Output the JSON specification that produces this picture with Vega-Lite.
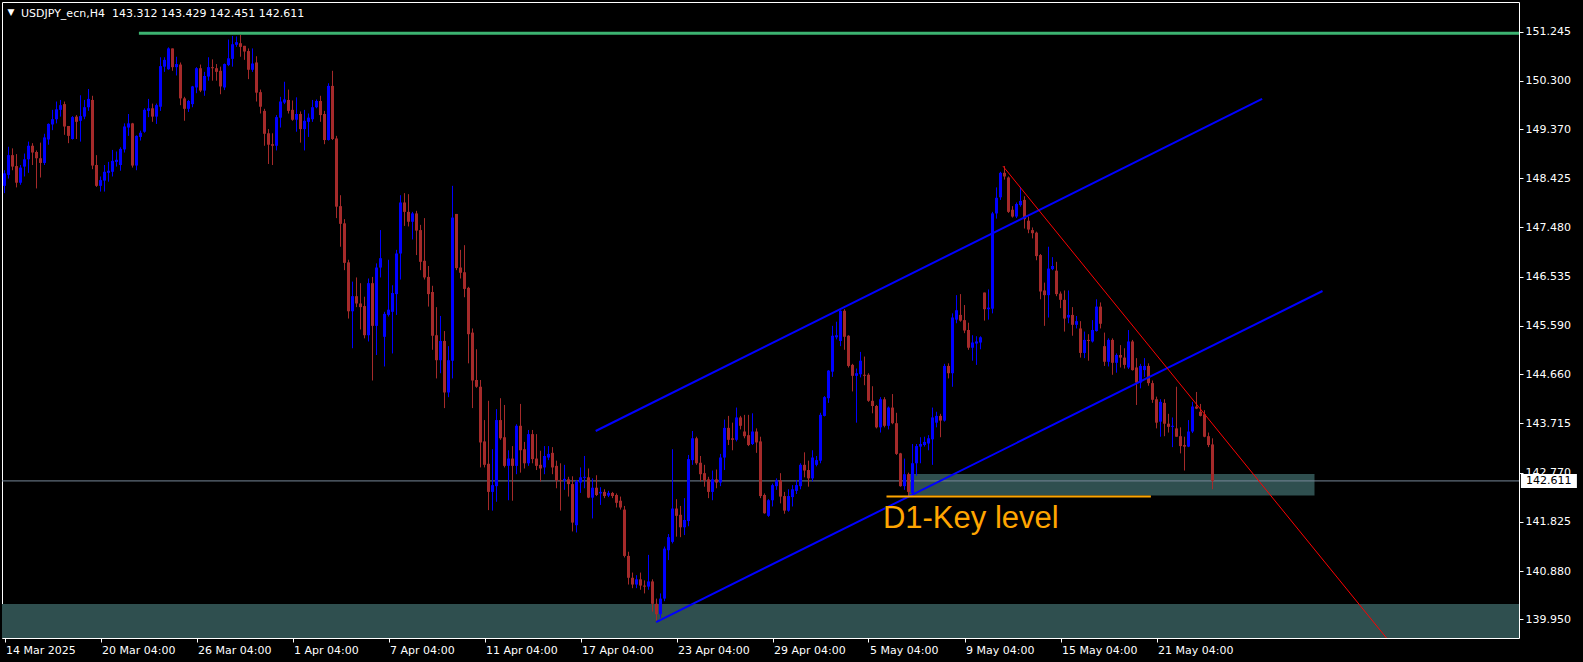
{
"$schema": "https://vega.github.io/schema/vega-lite/v6.json",
"width": 1517, "height": 636,
"autosize": {"type": "none"},
"padding": {"left": 2, "top": 2, "right": 64, "bottom": 24},
"background": "#000000",
"config": {
 "view": {"stroke": "#FFFFFF", "strokeWidth": 1, "fill": "#000000"},
 "axis": {"grid": false, "domain": false, "labelColor": "#FFFFFF", "tickColor": "#FFFFFF", "labelFont": "DejaVu Sans", "labelFontSize": 11, "tickSize": 4}
},
"datasets": {
"candles": [
{"i":0,"o":148.28,"h":148.58,"l":148.14,"c":148.52},
{"i":1,"o":148.49,"h":149.03,"l":148.42,"c":148.87},
{"i":2,"o":148.87,"h":149.00,"l":148.58,"c":148.65},
{"i":3,"o":148.66,"h":148.89,"l":148.25,"c":148.34},
{"i":4,"o":148.34,"h":148.68,"l":148.30,"c":148.63},
{"i":5,"o":148.65,"h":148.90,"l":148.46,"c":148.79},
{"i":6,"o":148.79,"h":149.13,"l":148.53,"c":149.05},
{"i":7,"o":149.05,"h":149.10,"l":148.68,"c":148.92},
{"i":8,"o":148.93,"h":148.96,"l":148.23,"c":148.81},
{"i":9,"o":148.81,"h":149.11,"l":148.44,"c":148.72},
{"i":10,"o":148.72,"h":149.28,"l":148.68,"c":149.21},
{"i":11,"o":149.17,"h":149.48,"l":149.07,"c":149.47},
{"i":12,"o":149.46,"h":149.74,"l":149.35,"c":149.56},
{"i":13,"o":149.56,"h":149.90,"l":149.48,"c":149.75},
{"i":14,"o":149.74,"h":149.93,"l":149.61,"c":149.83},
{"i":15,"o":149.85,"h":149.90,"l":149.26,"c":149.42},
{"i":16,"o":149.43,"h":149.43,"l":149.10,"c":149.24},
{"i":17,"o":149.18,"h":149.62,"l":149.17,"c":149.60},
{"i":18,"o":149.61,"h":149.64,"l":149.18,"c":149.51},
{"i":19,"o":149.53,"h":150.02,"l":149.13,"c":149.62},
{"i":20,"o":149.61,"h":149.93,"l":149.56,"c":149.79},
{"i":21,"o":149.79,"h":150.14,"l":149.72,"c":149.95},
{"i":22,"o":149.93,"h":150.01,"l":148.60,"c":148.67},
{"i":23,"o":148.68,"h":148.87,"l":148.26,"c":148.28},
{"i":24,"o":148.28,"h":148.46,"l":148.17,"c":148.39},
{"i":25,"o":148.38,"h":148.68,"l":148.17,"c":148.55},
{"i":26,"o":148.53,"h":148.74,"l":148.36,"c":148.57},
{"i":27,"o":148.55,"h":148.97,"l":148.46,"c":148.76},
{"i":28,"o":148.74,"h":148.94,"l":148.65,"c":148.78},
{"i":29,"o":148.68,"h":149.02,"l":148.57,"c":148.99},
{"i":30,"o":148.98,"h":149.48,"l":148.92,"c":149.42},
{"i":31,"o":149.40,"h":149.66,"l":149.24,"c":149.48},
{"i":32,"o":149.48,"h":149.49,"l":148.63,"c":148.67},
{"i":33,"o":148.67,"h":149.25,"l":148.58,"c":149.24},
{"i":34,"o":149.22,"h":149.34,"l":149.15,"c":149.30},
{"i":35,"o":149.32,"h":149.77,"l":149.30,"c":149.74},
{"i":36,"o":149.72,"h":149.95,"l":149.60,"c":149.77},
{"i":37,"o":149.77,"h":149.86,"l":149.51,"c":149.61},
{"i":38,"o":149.61,"h":149.86,"l":149.47,"c":149.83},
{"i":39,"o":149.80,"h":150.75,"l":149.72,"c":150.58},
{"i":40,"o":150.57,"h":150.75,"l":150.47,"c":150.70},
{"i":41,"o":150.52,"h":150.94,"l":150.51,"c":150.92},
{"i":42,"o":150.92,"h":150.92,"l":150.49,"c":150.56},
{"i":43,"o":150.56,"h":150.76,"l":150.40,"c":150.62},
{"i":44,"o":150.61,"h":150.65,"l":149.83,"c":149.96},
{"i":45,"o":149.96,"h":149.99,"l":149.53,"c":149.76},
{"i":46,"o":149.76,"h":149.93,"l":149.70,"c":149.91},
{"i":47,"o":149.85,"h":150.20,"l":149.79,"c":150.19},
{"i":48,"o":150.17,"h":150.56,"l":150.06,"c":150.54},
{"i":49,"o":150.54,"h":150.61,"l":150.08,"c":150.11},
{"i":50,"o":150.11,"h":150.47,"l":150.01,"c":150.39},
{"i":51,"o":150.38,"h":150.75,"l":150.30,"c":150.56},
{"i":52,"o":150.56,"h":150.71,"l":150.30,"c":150.54},
{"i":53,"o":150.54,"h":150.62,"l":150.30,"c":150.47},
{"i":54,"o":150.49,"h":150.57,"l":150.04,"c":150.19},
{"i":55,"o":150.17,"h":150.63,"l":150.12,"c":150.62},
{"i":56,"o":150.60,"h":151.09,"l":150.58,"c":150.73},
{"i":57,"o":150.72,"h":151.16,"l":150.57,"c":151.00},
{"i":58,"o":150.99,"h":151.15,"l":150.95,"c":151.04},
{"i":59,"o":151.02,"h":151.18,"l":150.76,"c":150.95},
{"i":60,"o":150.97,"h":150.97,"l":150.70,"c":150.86},
{"i":61,"o":150.87,"h":150.92,"l":150.33,"c":150.51},
{"i":62,"o":150.51,"h":150.92,"l":150.47,"c":150.63},
{"i":63,"o":150.65,"h":150.77,"l":149.90,"c":150.07},
{"i":64,"o":150.08,"h":150.13,"l":149.67,"c":149.80},
{"i":65,"o":149.72,"h":149.76,"l":149.05,"c":149.28},
{"i":66,"o":149.29,"h":149.37,"l":148.70,"c":149.07},
{"i":67,"o":149.08,"h":149.29,"l":148.68,"c":149.05},
{"i":68,"o":149.05,"h":149.64,"l":148.96,"c":149.60},
{"i":69,"o":149.59,"h":149.99,"l":149.40,"c":149.90},
{"i":70,"o":149.88,"h":150.28,"l":149.85,"c":149.94},
{"i":71,"o":149.93,"h":150.13,"l":149.67,"c":149.72},
{"i":72,"o":149.74,"h":149.92,"l":149.53,"c":149.55},
{"i":73,"o":149.55,"h":149.98,"l":149.32,"c":149.66},
{"i":74,"o":149.66,"h":149.71,"l":149.11,"c":149.37},
{"i":75,"o":149.37,"h":149.74,"l":148.96,"c":149.53},
{"i":76,"o":149.51,"h":149.67,"l":149.22,"c":149.59},
{"i":77,"o":149.56,"h":149.93,"l":149.51,"c":149.79},
{"i":78,"o":149.79,"h":149.94,"l":149.77,"c":149.91},
{"i":79,"o":149.91,"h":150.01,"l":149.51,"c":149.64},
{"i":80,"o":149.66,"h":149.72,"l":149.08,"c":149.16},
{"i":81,"o":149.16,"h":150.25,"l":149.15,"c":150.20},
{"i":82,"o":150.20,"h":150.49,"l":149.16,"c":149.18},
{"i":83,"o":149.19,"h":149.24,"l":147.66,"c":147.88},
{"i":84,"o":147.89,"h":148.10,"l":147.11,"c":147.55},
{"i":85,"o":147.56,"h":147.64,"l":146.66,"c":146.80},
{"i":86,"o":146.81,"h":146.86,"l":145.73,"c":145.87},
{"i":87,"o":145.87,"h":146.44,"l":145.16,"c":146.16},
{"i":88,"o":146.16,"h":146.52,"l":145.95,"c":146.02},
{"i":89,"o":146.02,"h":146.41,"l":145.52,"c":145.95},
{"i":90,"o":145.97,"h":146.15,"l":145.35,"c":145.41},
{"i":91,"o":145.41,"h":146.50,"l":145.29,"c":146.41},
{"i":92,"o":146.41,"h":146.53,"l":144.54,"c":145.59},
{"i":93,"o":145.59,"h":146.79,"l":145.03,"c":146.71},
{"i":94,"o":146.71,"h":147.43,"l":146.52,"c":146.89},
{"i":95,"o":145.38,"h":145.86,"l":144.81,"c":145.82},
{"i":96,"o":145.80,"h":146.86,"l":145.77,"c":145.90},
{"i":97,"o":145.86,"h":146.37,"l":145.06,"c":146.22},
{"i":98,"o":146.20,"h":147.05,"l":145.80,"c":146.98},
{"i":99,"o":146.98,"h":148.10,"l":146.48,"c":147.96},
{"i":100,"o":147.96,"h":148.14,"l":147.51,"c":147.78},
{"i":101,"o":147.78,"h":148.12,"l":147.50,"c":147.59},
{"i":102,"o":147.59,"h":147.78,"l":147.25,"c":147.75},
{"i":103,"o":147.75,"h":147.80,"l":146.95,"c":147.42},
{"i":104,"o":147.43,"h":147.53,"l":146.66,"c":146.82},
{"i":105,"o":146.84,"h":147.66,"l":146.48,"c":146.52},
{"i":106,"o":146.53,"h":146.74,"l":145.96,"c":146.20},
{"i":107,"o":146.24,"h":146.36,"l":145.13,"c":145.40},
{"i":108,"o":145.41,"h":145.95,"l":144.58,"c":144.93},
{"i":109,"o":144.93,"h":145.78,"l":144.68,"c":145.30},
{"i":110,"o":145.30,"h":145.49,"l":144.01,"c":144.31},
{"i":111,"o":144.31,"h":145.20,"l":144.22,"c":144.93},
{"i":112,"o":144.92,"h":148.28,"l":144.58,"c":147.67},
{"i":113,"o":147.74,"h":147.74,"l":146.66,"c":146.70},
{"i":114,"o":146.71,"h":147.05,"l":146.50,"c":146.61},
{"i":115,"o":146.62,"h":147.14,"l":146.14,"c":146.30},
{"i":116,"o":146.32,"h":146.34,"l":144.87,"c":145.43},
{"i":117,"o":145.46,"h":145.54,"l":144.01,"c":144.54},
{"i":118,"o":144.55,"h":145.14,"l":144.40,"c":144.42},
{"i":119,"o":144.42,"h":144.55,"l":142.87,"c":143.35},
{"i":120,"o":143.37,"h":143.78,"l":142.87,"c":142.92},
{"i":121,"o":142.94,"h":144.15,"l":142.05,"c":142.40},
{"i":122,"o":142.40,"h":143.22,"l":142.04,"c":142.53},
{"i":123,"o":142.51,"h":143.99,"l":142.21,"c":143.78},
{"i":124,"o":143.78,"h":144.20,"l":143.40,"c":143.43},
{"i":125,"o":143.45,"h":144.07,"l":142.87,"c":142.90},
{"i":126,"o":142.90,"h":143.20,"l":142.24,"c":143.04},
{"i":127,"o":143.04,"h":143.28,"l":142.23,"c":142.90},
{"i":128,"o":142.90,"h":143.70,"l":142.74,"c":143.67},
{"i":129,"o":143.67,"h":144.09,"l":142.77,"c":143.20},
{"i":130,"o":143.22,"h":143.36,"l":142.85,"c":142.95},
{"i":131,"o":142.95,"h":143.59,"l":142.90,"c":143.51},
{"i":132,"o":143.51,"h":143.59,"l":142.95,"c":143.03},
{"i":133,"o":143.04,"h":143.51,"l":142.82,"c":142.90},
{"i":134,"o":142.92,"h":143.19,"l":142.60,"c":142.85},
{"i":135,"o":142.87,"h":143.28,"l":142.74,"c":143.09},
{"i":136,"o":143.06,"h":143.28,"l":143.01,"c":143.13},
{"i":137,"o":143.15,"h":143.26,"l":142.74,"c":142.87},
{"i":138,"o":142.90,"h":143.00,"l":142.47,"c":142.62},
{"i":139,"o":142.63,"h":142.95,"l":142.04,"c":142.61},
{"i":140,"o":142.62,"h":142.92,"l":142.44,"c":142.65},
{"i":141,"o":142.64,"h":142.69,"l":142.31,"c":142.55},
{"i":142,"o":142.55,"h":142.70,"l":141.64,"c":141.81},
{"i":143,"o":141.76,"h":142.63,"l":141.62,"c":142.60},
{"i":144,"o":142.58,"h":142.87,"l":142.38,"c":142.68},
{"i":145,"o":142.67,"h":143.09,"l":142.47,"c":142.69},
{"i":146,"o":142.68,"h":142.85,"l":142.28,"c":142.29},
{"i":147,"o":142.29,"h":142.66,"l":141.89,"c":142.48},
{"i":148,"o":142.48,"h":142.72,"l":142.32,"c":142.34},
{"i":149,"o":142.37,"h":142.49,"l":142.15,"c":142.40},
{"i":150,"o":142.40,"h":142.45,"l":142.28,"c":142.32},
{"i":151,"o":142.33,"h":142.42,"l":142.30,"c":142.38},
{"i":152,"o":142.38,"h":142.40,"l":142.28,"c":142.32},
{"i":153,"o":142.34,"h":142.37,"l":142.10,"c":142.19},
{"i":154,"o":142.23,"h":142.31,"l":142.06,"c":142.10},
{"i":155,"o":142.06,"h":142.13,"l":141.14,"c":141.17},
{"i":156,"o":141.17,"h":141.25,"l":140.62,"c":140.75},
{"i":157,"o":140.75,"h":140.85,"l":140.55,"c":140.62},
{"i":158,"o":140.62,"h":140.80,"l":140.55,"c":140.72},
{"i":159,"o":140.72,"h":140.85,"l":140.52,"c":140.60},
{"i":160,"o":140.60,"h":140.70,"l":140.45,"c":140.58},
{"i":161,"o":140.58,"h":141.19,"l":140.52,"c":140.68},
{"i":162,"o":140.68,"h":140.72,"l":140.10,"c":140.25},
{"i":163,"o":140.25,"h":140.35,"l":139.92,"c":140.05},
{"i":164,"o":140.05,"h":140.45,"l":139.98,"c":140.35},
{"i":165,"o":140.35,"h":141.35,"l":140.30,"c":141.31},
{"i":166,"o":141.28,"h":141.59,"l":141.09,"c":141.53},
{"i":167,"o":141.44,"h":143.22,"l":141.41,"c":142.08},
{"i":168,"o":142.08,"h":142.26,"l":141.54,"c":141.94},
{"i":169,"o":141.96,"h":142.13,"l":141.53,"c":141.72},
{"i":170,"o":141.72,"h":142.28,"l":141.57,"c":141.86},
{"i":171,"o":141.84,"h":143.11,"l":141.74,"c":143.03},
{"i":172,"o":143.01,"h":143.57,"l":142.92,"c":143.43},
{"i":173,"o":143.43,"h":143.46,"l":142.92,"c":142.95},
{"i":174,"o":142.96,"h":143.09,"l":142.60,"c":142.74},
{"i":175,"o":142.76,"h":142.92,"l":142.50,"c":142.62},
{"i":176,"o":142.64,"h":142.69,"l":142.28,"c":142.40},
{"i":177,"o":142.40,"h":142.81,"l":142.24,"c":142.64},
{"i":178,"o":142.64,"h":142.83,"l":142.47,"c":142.58},
{"i":179,"o":142.58,"h":143.13,"l":142.51,"c":143.06},
{"i":180,"o":143.06,"h":143.79,"l":142.82,"c":143.63},
{"i":181,"o":143.63,"h":143.86,"l":143.30,"c":143.40},
{"i":182,"o":143.43,"h":143.73,"l":143.20,"c":143.40},
{"i":183,"o":143.40,"h":144.02,"l":143.37,"c":143.83},
{"i":184,"o":143.83,"h":143.86,"l":143.60,"c":143.67},
{"i":185,"o":143.56,"h":143.88,"l":143.43,"c":143.47},
{"i":186,"o":143.49,"h":143.88,"l":143.28,"c":143.30},
{"i":187,"o":143.32,"h":143.91,"l":143.30,"c":143.56},
{"i":188,"o":143.56,"h":143.62,"l":143.15,"c":143.35},
{"i":189,"o":143.37,"h":143.46,"l":142.28,"c":142.32},
{"i":190,"o":142.34,"h":142.37,"l":141.98,"c":141.99},
{"i":191,"o":141.94,"h":142.26,"l":141.92,"c":142.24},
{"i":192,"o":142.24,"h":142.56,"l":142.12,"c":142.53},
{"i":193,"o":142.51,"h":142.66,"l":142.44,"c":142.62},
{"i":194,"o":142.62,"h":142.76,"l":142.18,"c":142.31},
{"i":195,"o":142.32,"h":142.40,"l":141.98,"c":142.04},
{"i":196,"o":142.04,"h":142.45,"l":142.02,"c":142.32},
{"i":197,"o":142.30,"h":142.53,"l":142.12,"c":142.45},
{"i":198,"o":142.42,"h":142.63,"l":142.36,"c":142.53},
{"i":199,"o":142.51,"h":142.95,"l":142.45,"c":142.92},
{"i":200,"o":142.92,"h":143.16,"l":142.68,"c":142.81},
{"i":201,"o":142.82,"h":143.00,"l":142.50,"c":142.66},
{"i":202,"o":142.66,"h":143.20,"l":142.60,"c":143.06},
{"i":203,"o":142.92,"h":143.09,"l":142.89,"c":143.01},
{"i":204,"o":143.00,"h":143.92,"l":142.95,"c":143.88},
{"i":205,"o":143.86,"h":144.24,"l":143.85,"c":144.22},
{"i":206,"o":144.20,"h":144.74,"l":144.11,"c":144.73},
{"i":207,"o":144.71,"h":145.59,"l":144.61,"c":145.40},
{"i":208,"o":145.37,"h":145.67,"l":145.33,"c":145.41},
{"i":209,"o":145.30,"h":145.89,"l":145.20,"c":145.88},
{"i":210,"o":145.88,"h":145.91,"l":145.13,"c":145.38},
{"i":211,"o":145.40,"h":145.41,"l":144.79,"c":144.82},
{"i":212,"o":144.84,"h":144.86,"l":144.33,"c":144.63},
{"i":213,"o":144.63,"h":144.77,"l":143.73,"c":144.68},
{"i":214,"o":144.66,"h":145.09,"l":144.60,"c":144.92},
{"i":215,"o":144.65,"h":145.00,"l":144.45,"c":144.63},
{"i":216,"o":144.65,"h":144.68,"l":144.13,"c":144.15},
{"i":217,"o":144.15,"h":144.43,"l":143.91,"c":144.05},
{"i":218,"o":144.05,"h":144.07,"l":143.62,"c":143.64},
{"i":219,"o":143.64,"h":144.22,"l":143.54,"c":144.18},
{"i":220,"o":144.18,"h":144.22,"l":143.64,"c":143.67},
{"i":221,"o":143.67,"h":144.04,"l":143.60,"c":144.02},
{"i":222,"o":144.02,"h":144.28,"l":143.70,"c":143.72},
{"i":223,"o":143.72,"h":143.92,"l":143.11,"c":143.13},
{"i":224,"o":143.14,"h":143.15,"l":142.50,"c":142.51},
{"i":225,"o":142.51,"h":143.04,"l":142.44,"c":142.74},
{"i":226,"o":142.74,"h":142.77,"l":142.31,"c":142.40},
{"i":227,"o":142.38,"h":143.32,"l":142.36,"c":142.95},
{"i":228,"o":142.95,"h":143.32,"l":142.71,"c":143.28},
{"i":229,"o":143.27,"h":143.45,"l":142.95,"c":143.32},
{"i":230,"o":143.30,"h":143.46,"l":143.27,"c":143.36},
{"i":231,"o":143.33,"h":143.49,"l":143.20,"c":143.43},
{"i":232,"o":143.41,"h":144.02,"l":142.92,"c":143.83},
{"i":233,"o":143.73,"h":143.94,"l":143.64,"c":143.86},
{"i":234,"o":143.86,"h":143.90,"l":143.45,"c":143.77},
{"i":235,"o":143.77,"h":144.86,"l":143.75,"c":144.82},
{"i":236,"o":144.82,"h":144.87,"l":144.58,"c":144.68},
{"i":237,"o":144.68,"h":145.83,"l":144.42,"c":145.75},
{"i":238,"o":145.71,"h":146.18,"l":145.64,"c":145.89},
{"i":239,"o":145.80,"h":146.20,"l":145.67,"c":145.69},
{"i":240,"o":145.70,"h":145.99,"l":145.45,"c":145.50},
{"i":241,"o":145.51,"h":145.65,"l":145.13,"c":145.17},
{"i":242,"o":145.17,"h":145.41,"l":144.92,"c":145.27},
{"i":243,"o":145.25,"h":145.39,"l":144.84,"c":145.29},
{"i":244,"o":145.27,"h":145.39,"l":145.14,"c":145.37},
{"i":245,"o":146.23,"h":146.23,"l":145.69,"c":145.91},
{"i":246,"o":145.91,"h":146.29,"l":145.71,"c":145.94},
{"i":247,"o":145.92,"h":147.78,"l":145.83,"c":147.75},
{"i":248,"o":147.75,"h":148.25,"l":147.65,"c":148.05},
{"i":249,"o":148.06,"h":148.55,"l":148.01,"c":148.53},
{"i":250,"o":148.53,"h":148.66,"l":148.40,"c":148.46},
{"i":251,"o":148.44,"h":148.46,"l":147.76,"c":147.78},
{"i":252,"o":147.82,"h":147.89,"l":147.67,"c":147.69},
{"i":253,"o":147.69,"h":147.96,"l":147.66,"c":147.93},
{"i":254,"o":147.91,"h":148.26,"l":147.88,"c":147.99},
{"i":255,"o":148.01,"h":148.08,"l":147.46,"c":147.64},
{"i":256,"o":147.61,"h":147.69,"l":147.37,"c":147.44},
{"i":257,"o":147.43,"h":147.48,"l":147.27,"c":147.37},
{"i":258,"o":147.38,"h":147.40,"l":146.85,"c":146.93},
{"i":259,"o":146.95,"h":146.97,"l":146.10,"c":146.25},
{"i":260,"o":146.27,"h":146.42,"l":145.59,"c":146.18},
{"i":261,"o":146.18,"h":147.11,"l":145.75,"c":146.69},
{"i":262,"o":146.68,"h":146.91,"l":146.66,"c":146.74},
{"i":263,"o":146.65,"h":146.82,"l":146.16,"c":146.20},
{"i":264,"o":146.21,"h":146.25,"l":145.93,"c":146.09},
{"i":265,"o":146.09,"h":146.27,"l":145.48,"c":145.73},
{"i":266,"o":145.75,"h":146.27,"l":145.64,"c":145.80},
{"i":267,"o":145.80,"h":145.95,"l":145.40,"c":145.61},
{"i":268,"o":145.61,"h":145.78,"l":145.54,"c":145.68},
{"i":269,"o":145.54,"h":145.68,"l":144.98,"c":145.07},
{"i":270,"o":145.07,"h":145.48,"l":144.97,"c":145.32},
{"i":271,"o":145.32,"h":145.43,"l":144.92,"c":145.30},
{"i":272,"o":145.29,"h":145.70,"l":145.27,"c":145.51},
{"i":273,"o":145.49,"h":146.10,"l":145.48,"c":145.96},
{"i":274,"o":145.96,"h":146.04,"l":145.54,"c":145.63},
{"i":275,"o":145.20,"h":145.46,"l":144.82,"c":144.90},
{"i":276,"o":144.90,"h":145.35,"l":144.81,"c":145.32},
{"i":277,"o":145.32,"h":145.35,"l":144.65,"c":144.88},
{"i":278,"o":144.88,"h":145.06,"l":144.69,"c":145.03},
{"i":279,"o":145.03,"h":145.22,"l":144.79,"c":144.98},
{"i":280,"o":144.98,"h":145.16,"l":144.77,"c":144.84},
{"i":281,"o":144.79,"h":145.51,"l":144.76,"c":145.29},
{"i":282,"o":145.29,"h":145.32,"l":144.73,"c":144.74},
{"i":283,"o":144.79,"h":144.97,"l":144.07,"c":144.50},
{"i":284,"o":144.50,"h":144.86,"l":144.39,"c":144.82},
{"i":285,"o":144.74,"h":144.97,"l":144.61,"c":144.82},
{"i":286,"o":144.82,"h":144.87,"l":144.44,"c":144.49},
{"i":287,"o":144.49,"h":144.54,"l":144.11,"c":144.17},
{"i":288,"o":144.18,"h":144.23,"l":143.62,"c":143.73},
{"i":289,"o":143.75,"h":144.18,"l":143.46,"c":144.13},
{"i":290,"o":144.11,"h":144.18,"l":143.47,"c":143.71},
{"i":291,"o":143.71,"h":143.90,"l":143.54,"c":143.65},
{"i":292,"o":143.65,"h":143.83,"l":143.26,"c":143.67},
{"i":293,"o":143.62,"h":144.42,"l":143.46,"c":143.46},
{"i":294,"o":143.47,"h":143.64,"l":143.14,"c":143.28},
{"i":295,"o":143.30,"h":143.46,"l":142.81,"c":143.27},
{"i":296,"o":143.27,"h":143.78,"l":143.26,"c":143.56},
{"i":297,"o":143.56,"h":144.13,"l":143.53,"c":144.04},
{"i":298,"o":144.04,"h":144.32,"l":143.99,"c":144.00},
{"i":299,"o":143.94,"h":144.09,"l":143.85,"c":143.86},
{"i":300,"o":143.89,"h":143.97,"l":143.45,"c":143.46},
{"i":301,"o":143.47,"h":143.54,"l":143.26,"c":143.30},
{"i":302,"o":143.312,"h":143.429,"l":142.451,"c":142.611}
]
},
"layer": [
{
 "data": {"values": [
  {"x": -0.625, "x2": 378.625, "p": 140.245, "p2": 139.593},
  {"x": 226.0, "x2": 327.5, "p": 142.745, "p2": 142.33}
 ]},
 "mark": {"type": "rect", "color": "#2F4F4F"},
 "encoding": {
  "x": {"field": "x", "type": "quantitative",
   "scale": {"domain": [-0.625, 378.625], "nice": false, "zero": false, "padding": 0},
   "axis": {"orient": "bottom", "title": null, "values": [0,24,48,72,96,120,144,168,192,216,240,264,288],
    "labelExpr": "['14 Mar 2025','20 Mar 04:00','26 Mar 04:00','1 Apr 04:00','7 Apr 04:00','11 Apr 04:00','17 Apr 04:00','23 Apr 04:00','29 Apr 04:00','5 May 04:00','9 May 04:00','15 May 04:00','21 May 04:00'][round(datum.value/24)]",
    "labelAlign": "left", "labelBaseline": "top", "labelPadding": 2, "labelOffset": 1,
    "labelOverlap": false, "labelBound": false, "labelFlush": false, "tickSize": 4}},
  "x2": {"field": "x2"},
  "y": {"field": "p", "type": "quantitative",
   "scale": {"domain": [139.593, 151.812], "nice": false, "zero": false, "padding": 0},
   "axis": {"orient": "right", "title": null, "values": [139.95,140.88,141.825,142.77,143.715,144.66,145.59,146.535,147.48,148.425,149.37,150.3,151.245],
    "format": ".3f", "labelPadding": 2, "tickSize": 4, "labelBaseline": "middle", "labelOverlap": false, "labelBound": false, "labelFlush": false}},
  "y2": {"field": "p2"}
 }
},
{
 "data": {"values": [{"p": 142.611}]},
 "mark": {"type": "rule", "color": "#778899", "strokeWidth": 1},
 "encoding": {"y": {"field": "p", "type": "quantitative"}}
},
{
 "data": {"name": "candles"},
 "mark": {"type": "rule", "strokeWidth": 1},
 "encoding": {
  "x": {"field": "i", "type": "quantitative"},
  "y": {"field": "l", "type": "quantitative"},
  "y2": {"field": "h"},
  "color": {"condition": {"test": "datum.c >= datum.o", "value": "#0000FF"}, "value": "#A52A2A"}
 }
},
{
 "data": {"name": "candles"},
 "mark": {"type": "bar", "width": 3},
 "encoding": {
  "x": {"field": "i", "type": "quantitative"},
  "y": {"field": "o", "type": "quantitative"},
  "y2": {"field": "c"},
  "color": {"condition": {"test": "datum.c >= datum.o", "value": "#0000FF"}, "value": "#A52A2A"}
 }
},
{
 "data": {"values": [
  {"x": 147.8, "p": 143.57, "x2": 314.4, "p2": 149.95},
  {"x": 162.9, "p": 139.90, "x2": 329.5, "p2": 146.26}
 ]},
 "mark": {"type": "rule", "color": "#0000FF", "strokeWidth": 2},
 "encoding": {
  "x": {"field": "x", "type": "quantitative"},
  "x2": {"field": "x2"},
  "y": {"field": "p", "type": "quantitative"},
  "y2": {"field": "p2"}
 }
},
{
 "data": {"values": [{"x": 249.6, "p": 148.66, "x2": 345.5, "p2": 139.593}]},
 "mark": {"type": "rule", "color": "#FF0000", "strokeWidth": 1},
 "encoding": {
  "x": {"field": "x", "type": "quantitative"},
  "x2": {"field": "x2"},
  "y": {"field": "p", "type": "quantitative"},
  "y2": {"field": "p2"}
 }
},
{
 "data": {"values": [{"x": 33.6, "p": 151.21, "x2": 378.625, "p2": 151.21}]},
 "mark": {"type": "rule", "color": "#3CB371", "strokeWidth": 3},
 "encoding": {
  "x": {"field": "x", "type": "quantitative"},
  "x2": {"field": "x2"},
  "y": {"field": "p", "type": "quantitative"},
  "y2": {"field": "p2"}
 }
},
{
 "data": {"values": [{"x": 220.5, "p": 142.31, "x2": 286.6, "p2": 142.31}]},
 "mark": {"type": "rule", "color": "#FFA500", "strokeWidth": 2},
 "encoding": {
  "x": {"field": "x", "type": "quantitative"},
  "x2": {"field": "x2"},
  "y": {"field": "p", "type": "quantitative"},
  "y2": {"field": "p2"}
 }
},
{
 "data": {"values": [{"x": 219.6, "p": 141.706, "t": "D1-Key level"}]},
 "mark": {"type": "text", "color": "#FFA500", "font": "Liberation Sans", "fontSize": 31, "align": "left", "baseline": "alphabetic"},
 "encoding": {
  "x": {"field": "x", "type": "quantitative"},
  "y": {"field": "p", "type": "quantitative"},
  "text": {"field": "t"}
 }
},
{
 "data": {"values": [{"x": 4.125, "p": 151.533, "t": "USDJPY_ecn,H4\u00a0 143.312 143.429 142.451 142.611"}]},
 "mark": {"type": "text", "color": "#FFFFFF", "font": "DejaVu Sans", "fontSize": 11, "align": "left", "baseline": "alphabetic"},
 "encoding": {
  "x": {"field": "x", "type": "quantitative"},
  "y": {"field": "p", "type": "quantitative"},
  "text": {"field": "t"}
 }
},
{
 "data": {"values": [{"x": 1.625, "p": 151.62, "t": "▼"}]},
 "mark": {"type": "text", "color": "#FFFFFF", "font": "DejaVu Sans", "fontSize": 9, "align": "center", "baseline": "middle"},
 "encoding": {
  "x": {"field": "x", "type": "quantitative"},
  "y": {"field": "p", "type": "quantitative"},
  "text": {"field": "t"}
 }
},
{
 "data": {"values": [{"x": 379.1, "x2": 393.1, "p": 142.745, "p2": 142.475}]},
 "mark": {"type": "rect", "color": "#FFFFFF"},
 "encoding": {
  "x": {"field": "x", "type": "quantitative"},
  "x2": {"field": "x2"},
  "y": {"field": "p", "type": "quantitative"},
  "y2": {"field": "p2"}
 }
},
{
 "data": {"values": [{"x": 380.4, "p": 142.611, "t": "142.611"}]},
 "mark": {"type": "text", "color": "#000000", "font": "DejaVu Sans", "fontSize": 11, "align": "left", "baseline": "middle"},
 "encoding": {
  "x": {"field": "x", "type": "quantitative"},
  "y": {"field": "p", "type": "quantitative"},
  "text": {"field": "t"}
 }
}
]
}
